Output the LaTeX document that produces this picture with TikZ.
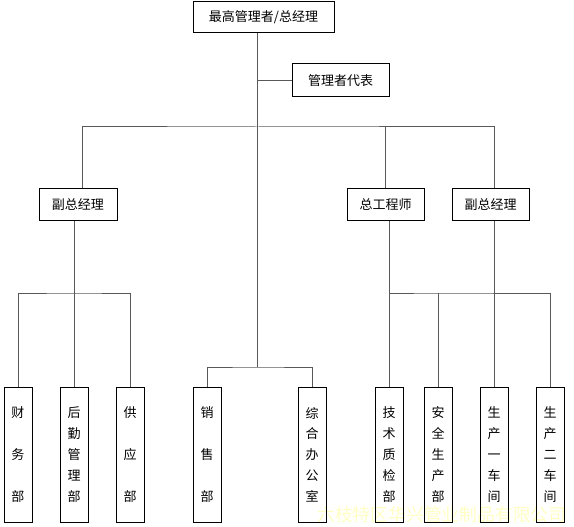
\documentclass[tikz,border=0pt]{standalone}
\usepackage{fontspec}
\setmainfont{Noto Sans CJK SC}
\usetikzlibrary{calc}

\definecolor{wmark}{HTML}{FFFFC4}
\newcommand{\orgvar}{
\def\ybox{454.5}   % centre line of the department boxes
\def\ymid{293}
}

\tikzset{
  headbox/.style={draw, line width=1pt, inner sep=0pt, minimum height=31pt,
    font=\fontsize{13}{15}\selectfont},
  deptbox/.style={draw, line width=1pt, inner sep=0pt, minimum width=28pt,
    minimum height=135pt, align=center, font=\fontsize{13}{20.8}\selectfont},
  deptwide/.style={deptbox, font=\fontsize{13}{41.6}\selectfont},
  link/.style={draw=black!65, line width=1pt},
}

\begin{document}
\begin{tikzpicture}[x=1pt,y=-1pt]
  \orgvar
  \useasboundingbox (0,0) rectangle (574,527);
  \node[text=wmark, font=\fontsize{17.8}{18}\selectfont, anchor=west, inner sep=0pt]
    (wm) at (317,515) {六枝特区华兴管业制品有限公司};
%
  \node[headbox, minimum width=141pt] (top) at (263.5,17.5) {最高管理者/总经理};
  \node[headbox, minimum width=97pt, minimum height=33pt] (rep) at (340.5,80.5) {管理者代表};
  \node[headbox, minimum width=78pt] (vpa) at (78,204.5) {副总经理};
  \node[headbox, minimum width=77pt] (chief) at (385.5,204.5) {总工程师};
  \node[headbox, minimum width=77pt] (vpb) at (490.5,204.5) {副总经理};
%
  \node[deptwide] (fin)   at (18,\ybox)  {财\\务\\部};
  \node[deptbox]  (logi)  at (74,\ybox)  {后\\勤\\管\\理\\部};
  \node[deptwide] (supp)  at (130,\ybox) {供\\应\\部};
  \node[deptwide] (sales) at (207,\ybox) {销\\售\\部};
  \node[deptbox]  (office) at (312,\ybox) {综\\合\\办\\公\\室};
  \node[deptbox]  (qc)    at (389,\ybox) {技\\术\\质\\检\\部};
  \node[deptbox]  (safe)  at (438,\ybox) {安\\全\\生\\产\\部};
  \node[deptbox]  (wsa)   at (494,\ybox) {生\\产\\一\\车\\间};
  \node[deptbox]  (wsb)   at (550,\ybox) {生\\产\\二\\车\\间};
%
  \coordinate (trunk) at (257,127);
  \coordinate (mid)   at (257,367);
  \coordinate (busl)  at (74,\ymid);
  \coordinate (busr)  at (438,\ymid);
%
  \draw[link] (top.south -| trunk) -- (mid);
  \draw[link] (rep.west) -- (rep.west -| trunk);
  \draw[link] ($(vpa.north)+(4,0)$) |- (trunk) -| (wsa.north |- vpb.north);
  \draw[link] (chief.north) -- (chief.north |- trunk);
  \draw[link] (sales.north) |- (mid) -| (office.north);
%
  \draw[link] (logi.north) -- (logi.north |- vpa.south);
  \draw[link] (fin.north) |- (busl) -| (supp.north);
  \draw[link] (qc.north) -- (qc.north |- chief.south);
  \draw[link] (qc.north) |- (busr) -| (wsb.north);
  \draw[link] (safe.north) -- (busr);
  \draw[link] (wsa.north) -- (wsa.north |- vpb.south);
\end{tikzpicture}
\end{document}
